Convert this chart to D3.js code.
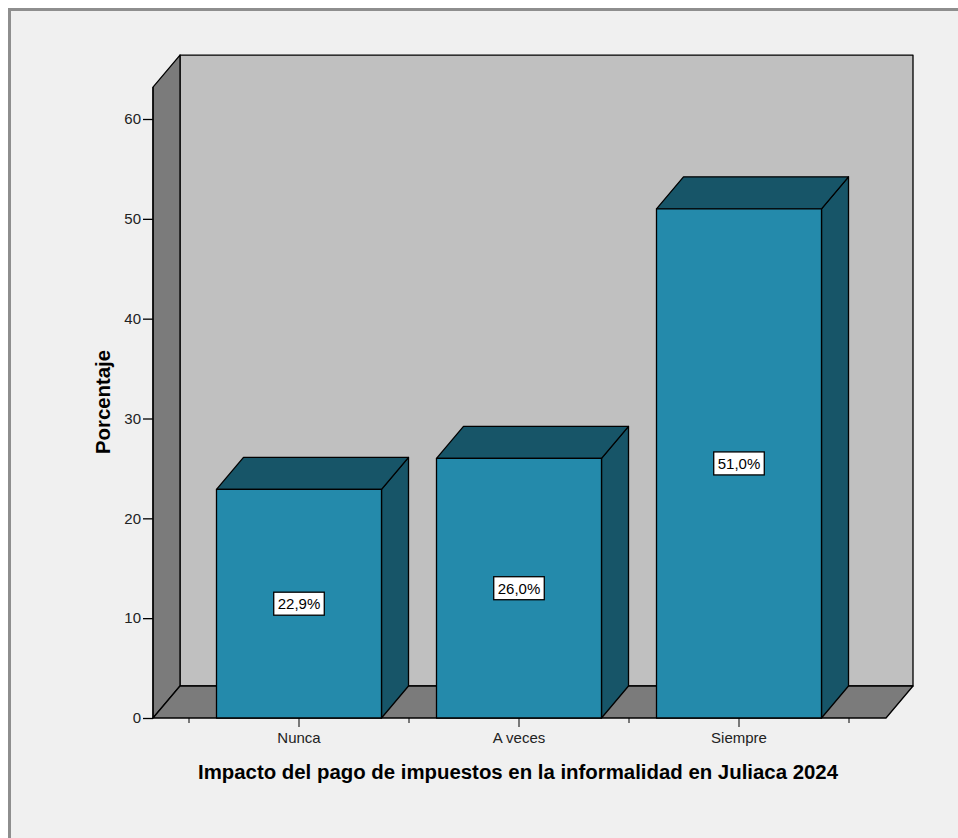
<!DOCTYPE html>
<html>
<head>
<meta charset="utf-8">
<script src="https://cdn.jsdelivr.net/npm/d3@7"></script>
<style>
  html, body { margin: 0; padding: 0; background: #ffffff; }
  svg { display: block; }
</style>
</head>
<body>
<div id="chart"></div>
<script>
const categories = ["Nunca", "A veces", "Siempre"];
const percentages = [22.9, 26.0, 51.0];
const valueLabels = ["22,9%", "26,0%", "51,0%"];
const yTicks = [0, 10, 20, 30, 40, 50, 60];
const xTitle = "Impacto del pago de impuestos en la informalidad en Juliaca 2024";
const yTitle = "Porcentaje";

const W = 958, H = 838;
const svg = d3.select("#chart").append("svg").attr("width", W).attr("height", H);

// frame
svg.append("rect").attr("x", 9.5).attr("y", 9.5).attr("width", W + 20).attr("height", H + 20)
  .attr("fill", "#f0f0f0").attr("stroke", "#8e8e8e").attr("stroke-width", 3);

const DX = 27, DY = -32;
const y = d3.scaleLinear().domain([0, 60]).range([718, 119]);
const yMax = 63.2;
const x = d3.scaleBand().domain(categories).range([189, 849]).padding(0);
const xL = 153, xR = 886;
const y0 = y(0), yT = y(yMax);

const front = "#248aab", dark = "#175568";
const wallBack = "#c0c0c0", wallSide = "#7b7b7b";
const line = d3.line();
const poly = (pts, fill) => svg.append("path").attr("d", line(pts) + "Z")
  .attr("fill", fill).attr("stroke", "#000").attr("stroke-width", 1.3).attr("stroke-linejoin", "round");

// back wall
poly([[xL + DX, yT + DY], [xR + DX, yT + DY], [xR + DX, y0 + DY], [xL + DX, y0 + DY]], wallBack);
// left wall
poly([[xL, yT], [xL + DX, yT + DY], [xL + DX, y0 + DY], [xL, y0]], wallSide);
// floor
poly([[xL, y0], [xR, y0], [xR + DX, y0 + DY], [xL + DX, y0 + DY]], wallSide);

// bars
const bw = x.bandwidth() * 0.75;
categories.forEach((c, i) => {
  const cx = x(c) + x.bandwidth() / 2;
  const bl = cx - bw / 2, br = cx + bw / 2;
  const top = y(percentages[i]);
  poly([[br, top], [br + DX, top + DY], [br + DX, y0 + DY], [br, y0]], dark);
  poly([[bl, top], [bl + DX, top + DY], [br + DX, top + DY], [br, top]], dark);
  poly([[bl, top], [br, top], [br, y0], [bl, y0]], front);
});

// value labels
categories.forEach((c, i) => {
  const cx = x(c) + x.bandwidth() / 2;
  const cy = y(percentages[i] / 2);
  const g = svg.append("g");
  const t = g.append("text").attr("x", cx).attr("y", cy + 5.5).attr("text-anchor", "middle")
    .attr("font-family", "Liberation Sans, Arial, sans-serif").attr("font-size", 15)
    .attr("fill", "#000").text(valueLabels[i]);
  const w = t.node().getComputedTextLength();
  g.insert("rect", "text").attr("x", cx - w / 2 - 4).attr("y", cy - 11.5)
    .attr("width", w + 8).attr("height", 23).attr("fill", "#fff")
    .attr("stroke", "#000").attr("stroke-width", 1.3);
});

// y axis
const yAxisG = svg.append("g").attr("transform", `translate(${xL},0)`)
  .call(d3.axisLeft(y).tickValues(yTicks).tickSize(10).tickPadding(2).tickFormat(d3.format("d")));
yAxisG.select(".domain").remove();
yAxisG.selectAll("line").attr("stroke", "#000").attr("stroke-width", 1.3);
yAxisG.selectAll("text").attr("font-family", "Liberation Sans, Arial, sans-serif")
  .attr("font-size", 15).attr("fill", "#222");
svg.append("line").attr("x1", xL).attr("x2", xL).attr("y1", y0).attr("y2", yT)
  .attr("stroke", "#000").attr("stroke-width", 1.3);

// x axis
const xAxisG = svg.append("g").attr("transform", `translate(0,${y0})`)
  .call(d3.axisBottom(x).tickSize(9).tickPadding(5));
xAxisG.select(".domain").remove();
xAxisG.selectAll("line").attr("stroke", "#000").attr("stroke-width", 1);
xAxisG.selectAll("text").attr("font-family", "Liberation Sans, Arial, sans-serif")
  .attr("font-size", 15).attr("fill", "#222");
// boundary ticks
const bounds = categories.map(c => x(c)).concat([x.range()[1]]);
svg.append("g").selectAll("line").data(bounds).join("line")
  .attr("x1", d => d).attr("x2", d => d).attr("y1", y0).attr("y2", y0 + 5)
  .attr("stroke", "#000").attr("stroke-width", 1);

// titles
svg.append("text").attr("x", 518).attr("y", 779).attr("text-anchor", "middle")
  .attr("font-family", "Liberation Sans, Arial, sans-serif").attr("font-weight", "bold")
  .attr("font-size", 20).attr("textLength", 640).attr("lengthAdjust", "spacingAndGlyphs")
  .attr("fill", "#000").text(xTitle);
svg.append("text").attr("transform", "translate(110,402) rotate(-90)").attr("text-anchor", "middle")
  .attr("font-family", "Liberation Sans, Arial, sans-serif").attr("font-weight", "bold")
  .attr("font-size", 20).attr("textLength", 104).attr("lengthAdjust", "spacingAndGlyphs")
  .attr("fill", "#000").text(yTitle);
</script>
</body>
</html>
